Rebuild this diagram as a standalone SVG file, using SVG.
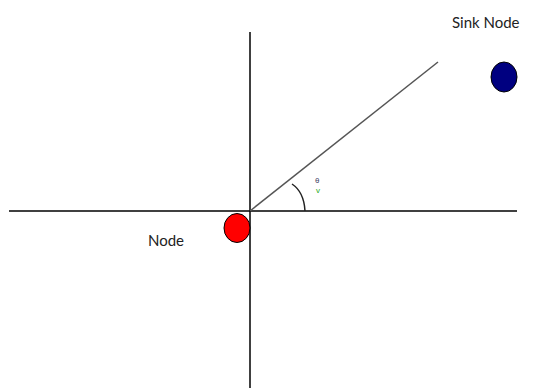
<svg xmlns="http://www.w3.org/2000/svg" width="549" height="390" viewBox="0 0 549 390">
<style>
.ax{stroke:#000;stroke-width:1.5;fill:none}
.lbl{font-family:Lato,"Liberation Sans",Arial,sans-serif;font-size:15px;fill:#222}
</style>
<rect width="549" height="390" fill="#fff"/>
<g id="connectors">
<line class="ax" x1="9" y1="211" x2="517" y2="211"/>
<line class="ax" x1="250" y1="32" x2="250" y2="388"/>
<line x1="250" y1="211" x2="438" y2="62" stroke="#555" stroke-width="1.5"/>
<path d="M292,184 Q304,192 305,211" stroke="#222" stroke-width="1.5" fill="none"/>
<text x="315" y="183" font-family="Liberation Sans,sans-serif" font-size="8" fill="#446">θ</text>
<text x="316" y="193" font-family="Liberation Sans,sans-serif" font-size="8" fill="#2a2">v</text>
</g>
<g id="node">
<ellipse cx="237" cy="228" rx="13" ry="14.5" fill="#f00" stroke="#000" stroke-width="1"/>
<text class="lbl" x="148" y="246">Node</text>
</g>
<g id="sink-node">
<ellipse cx="504" cy="77" rx="13" ry="15" fill="#000080" stroke="#000" stroke-width="1"/>
<text class="lbl" x="452" y="28">Sink Node</text>
</g>
</svg>
